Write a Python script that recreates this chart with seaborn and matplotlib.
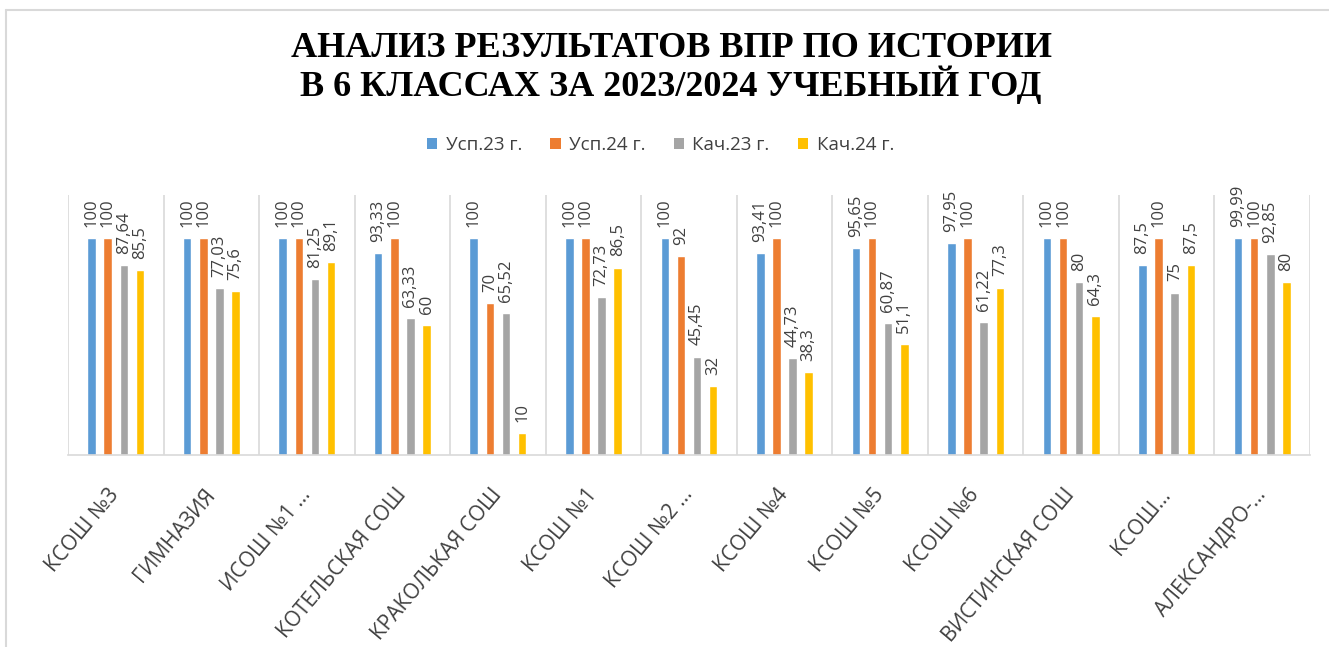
import matplotlib
matplotlib.use("Agg")
import matplotlib.pyplot as plt
from matplotlib.lines import Line2D
from matplotlib.patches import Patch
import pandas as pd
import seaborn as sns

schools = [
    "КСОШ №3", "ГИМНАЗИЯ", "ИСОШ №1 …", "КОТЕЛЬСКАЯ СОШ", "КРАКОЛЬКАЯ СОШ",
    "КСОШ №1", "КСОШ №2 …", "КСОШ №4", "КСОШ №5", "КСОШ №6",
    "ВИСТИНСКАЯ СОШ", "КСОШ…", "АЛЕКСАНДРО-…",
]
series = ["Усп.23 г.", "Усп.24 г.", "Кач.23 г.", "Кач.24 г."]
usp23 = [100, 100, 100, 93.33, 100, 100, 100, 93.41, 95.65, 97.95, 100, 87.5, 99.99]
usp24 = [100, 100, 100, 100, 70, 100, 92, 100, 100, 100, 100, 100, 100]
kach23 = [87.64, 77.03, 81.25, 63.33, 65.52, 72.73, 45.45, 44.73, 60.87, 61.22, 80, 75, 92.85]
kach24 = [85.5, 75.6, 89.1, 60, 10, 86.5, 32, 38.3, 51.1, 77.3, 64.3, 87.5, 80]
colors = ["#5B9BD5", "#ED7D31", "#A5A5A5", "#FFC000"]

title = "АНАЛИЗ РЕЗУЛЬТАТОВ ВПР ПО ИСТОРИИ\nВ 6 КЛАССАХ ЗА 2023/2024 УЧЕБНЫЙ ГОД"

values = [usp23, usp24, kach23, kach24]
df = pd.DataFrame(
    [(s, name, v) for name, vals in zip(series, values) for s, v in zip(schools, vals)],
    columns=["school", "series", "value"],
)

sns.set_theme(style="white")
plt.rcParams["font.family"] = ["Open Sans", "DejaVu Sans"]
text_color = "#404040"
grid_color = "#D9D9D9"

W, H = 1329, 647
fig = plt.figure(figsize=(W / 100, H / 100), dpi=100)
ax = fig.add_axes([68 / W, (H - 455) / H, (1310 - 68) / W, (455 - 195) / H])

sns.barplot(
    data=df, x="school", y="value", hue="series", hue_order=series,
    order=schools, palette=colors, width=0.675, gap=0.47,
    saturation=1, legend=False, ax=ax,
)

ax.set_ylim(0, 120)
ax.set_xlim(-0.5, len(schools) - 0.5)
ax.set_xlabel("")
ax.set_ylabel("")
ax.set_yticks([])

# category separators
ax.set_xticks([i - 0.5 for i in range(len(schools) + 1)], minor=True)
ax.grid(which="minor", axis="x", color=grid_color, linewidth=1.2)
ax.tick_params(axis="x", which="both", length=0)
for side in ["top", "left", "right"]:
    ax.spines[side].set_visible(False)
ax.spines["bottom"].set_color(grid_color)
ax.spines["bottom"].set_linewidth(1.2)

ax.set_xticks(range(len(schools)))
ax.set_xticklabels(schools, rotation=50, ha="right", va="center",
                   rotation_mode="anchor", fontsize=15, color=text_color)
ax.tick_params(axis="x", which="major", pad=26)

for cont, vals in zip(ax.containers, values):
    labels = [f"{v:g}".replace(".", ",") for v in vals]
    ax.bar_label(cont, labels=labels, rotation=90, padding=8,
                 fontsize=12, color=text_color)

fig.text(0.505, 1 - 68 / H, title, ha="center", va="center",
         fontsize=26, fontweight="bold", family="Liberation Serif",
         color="black", linespacing=1.0)

handles = [Patch(facecolor=c, edgecolor="none") for c in colors]
fig.legend(handles, series, loc="center", bbox_to_anchor=(0.497, 1 - 145 / H),
           ncol=4, frameon=False, fontsize=13.5, handlelength=0.55,
           handleheight=0.55, handletextpad=0.45, columnspacing=1.5,
           labelcolor=text_color)

# chart frame
fig.add_artist(Line2D([6 / W, 1], [1 - 10 / H, 1 - 10 / H], color=grid_color,
                      linewidth=1.5, transform=fig.transFigure))
fig.add_artist(Line2D([6 / W, 6 / W], [0, 1 - 10 / H], color=grid_color,
                      linewidth=1.5, transform=fig.transFigure))

fig.savefig("out.png", dpi=100, facecolor="white")
